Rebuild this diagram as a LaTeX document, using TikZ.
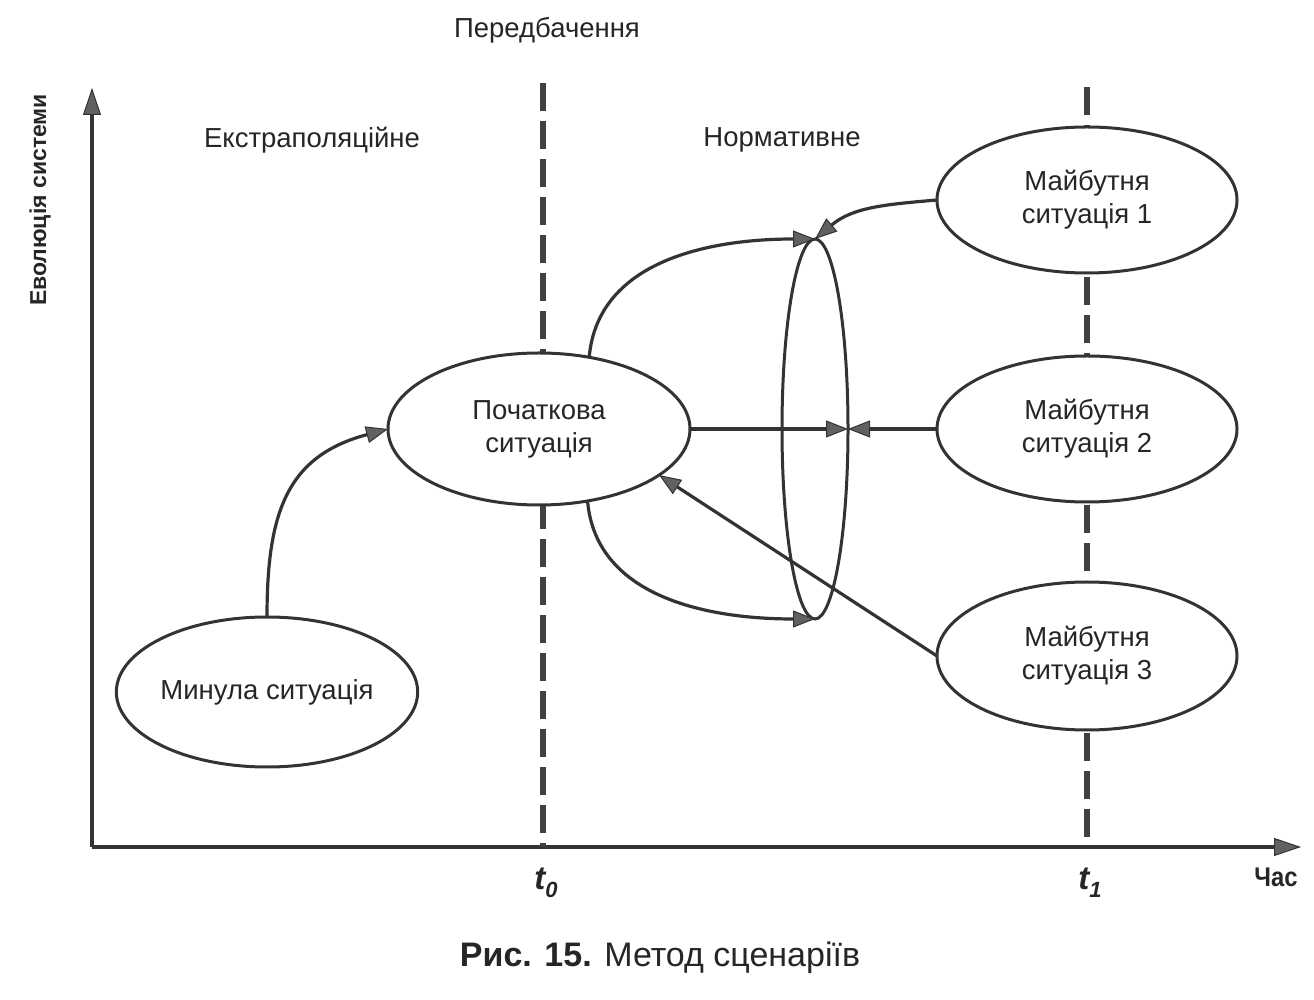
\documentclass[tikz,border=0pt]{standalone}
\usepackage{fontspec}
\setmainfont{Liberation Sans}
\usetikzlibrary{shapes.geometric,arrows.meta}
\begin{document}
\begin{tikzpicture}[x=1pt,y=1pt,
  sit/.style={ellipse, draw=black!80, line width=3pt, fill=white, inner sep=0pt, outer sep=0pt,
    align=center, font=\fontsize{27.5}{33}\selectfont, text=black!85},
  conn/.style={draw=black!80, line width=3.2pt, -{Triangle[length=22pt,width=17pt,line width=1pt,fill=black!62]}},
  axisline/.style={draw=black!80, line width=3.6pt, -{Triangle[length=27pt,width=18pt,line width=1pt,fill=black!62]}},
  tline/.style={draw=black!75, line width=6pt, dash pattern=on 28pt off 10pt},
  lab/.style={font=\fontsize{27.5}{33}\selectfont, text=black!85},
]
\useasboundingbox (0,0) rectangle (1314,999);
\fill[white] (0,0) rectangle (1314,999);

% axes
\coordinate (O) at (92,152);
\coordinate (ytip) at (92,911);
\coordinate (xtip) at (1301,152);
\draw[axisline] (O) -- (ytip);
\draw[axisline] (O) -- (xtip);

% time lines
\coordinate (t0top) at (543,916);
\coordinate (t0bot) at (543,152);
\coordinate (t1top) at (1087,912);
\coordinate (t1bot) at (1087,152);
\draw[tline] (t0top) -- (t0bot);
\draw[tline] (t1top) -- (t1bot);

% situations
\node[sit, minimum width=290pt, minimum height=150pt] (past) at (267,307) {Минула ситуація};
\node[sit, minimum width=302pt, minimum height=152pt] (init) at (539,570) {Початкова\\ситуація};
\node[sit, minimum width=300pt, minimum height=146pt] (f1) at (1087,799) {Майбутня\\ситуація 1};
\node[sit, minimum width=300pt, minimum height=146pt] (f2) at (1087,570) {Майбутня\\ситуація 2};
\node[sit, minimum width=300pt, minimum height=148pt] (f3) at (1087,343) {Майбутня\\ситуація 3};

% lens
\node[ellipse, draw=black!80, line width=3pt, inner sep=0pt, outer sep=0pt,
  minimum width=66pt, minimum height=380pt] (lens) at (815,570) {};

% connectors
\draw[conn] (past.north) to[out=90,in=195,looseness=1.2] (init.west);
\draw[conn] (init.55) to[out=85,in=180] (lens.north);
\draw[conn] (init.-56) to[out=-85,in=180] (lens.south);
\draw[conn] (init.east) -- (lens.east);
\draw[conn] (f2.west) -- (lens.east);
\draw[conn] (f1.west) to[out=185,in=40] (lens.north);
\draw[conn] (f3.west) -- (init.-21);

% labels
\node[lab] (pred) at (547,969) {Передбачення};
\node[lab] (extr) at (312,859) {Екстраполяційне};
\node[lab] (norm) at (782,859) {Нормативне};
\node[text=black!85, rotate=90, font=\bfseries\fontsize{23}{28}\selectfont] (evo) at (40,799) {Еволюція системи};
\node[text=black!85] (t0) at (546,116) {\fontsize{33}{38}\selectfont\bfseries\itshape t\raisebox{-8pt}{\fontsize{22}{25}\selectfont 0}};
\node[text=black!85] (t1) at (1090,116) {\fontsize{33}{38}\selectfont\bfseries\itshape t\raisebox{-8pt}{\fontsize{22}{25}\selectfont 1}};
\node[text=black!85, font=\bfseries\fontsize{27}{31}\selectfont, xscale=0.88] (chas) at (1276,122) {Час};
\node[text=black!85] (cap) at (660,41) {\fontsize{34}{40}\selectfont\textbf{Рис. 15.} Метод сценаріїв};
\end{tikzpicture}
\end{document}
